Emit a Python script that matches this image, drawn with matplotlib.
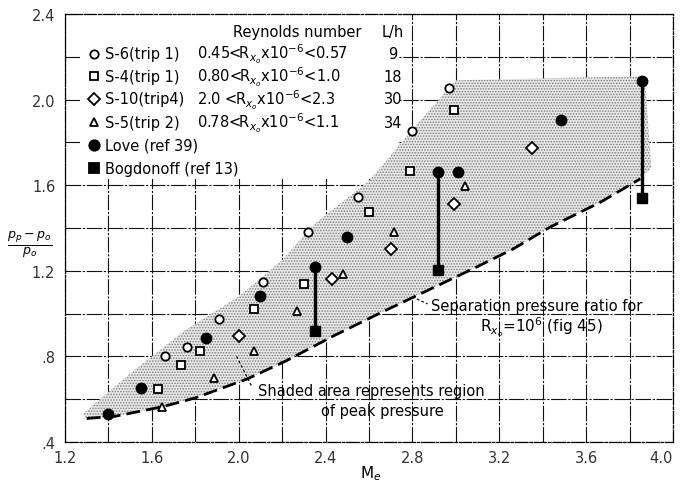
import numpy as np
import matplotlib.pyplot as plt
from matplotlib.patches import Polygon, Rectangle

# S-6 (trip 1)
s6_m = [1.66, 1.76, 1.91, 2.11, 2.32, 2.55, 2.80, 2.97]
s6_p = [0.80, 0.845, 0.975, 1.15, 1.38, 1.545, 1.855, 2.055]
# S-4 (trip 1)
s4_m = [1.63, 1.735, 1.82, 2.07, 2.30, 2.60, 2.79, 2.99]
s4_p = [0.648, 0.76, 0.825, 1.02, 1.138, 1.475, 1.666, 1.95]
# S-10 (trip 4)
s10_m = [2.00, 2.43, 2.70, 2.99, 3.35]
s10_p = [0.895, 1.16, 1.30, 1.51, 1.774]
# S-5 (trip 2)
s5_m = [1.647, 1.886, 2.07, 2.27, 2.48, 2.715, 3.04]
s5_p = [0.564, 0.70, 0.825, 1.012, 1.185, 1.38, 1.596]
# Love (ref 39)
love_m = [1.40, 1.55, 1.85, 2.10, 2.50, 3.01, 3.485]
love_p = [0.531, 0.652, 0.886, 1.083, 1.358, 1.66, 1.905]
# ranges: Love on top, Bogdonoff (ref 13) at bottom
bar_m = [2.35, 2.92, 3.855]
bar_top = [1.22, 1.66, 2.085]
bar_bot = [0.92, 1.205, 1.54]

# separation pressure ratio, R=10^6 (fig 45)
sep_m = [1.30, 1.43, 1.65, 1.80, 2.04, 2.22, 2.435, 2.66, 3.08, 3.26, 3.435, 3.665, 3.85]
sep_p = [0.51, 0.52, 0.565, 0.606, 0.695, 0.78, 0.895, 1.007, 1.21, 1.30, 1.405, 1.52, 1.63]
# upper edge of shaded region of peak pressure
top_m = [1.28, 1.50, 1.75, 2.00, 2.20, 2.35, 2.60, 2.80, 3.00, 3.87, 3.90]
top_p = [0.53, 0.72, 0.92, 1.08, 1.25, 1.42, 1.62, 1.86, 2.09, 2.11, 1.68]

xt = [1.2, 1.6, 2.0, 2.4, 2.8, 3.2, 3.6, 4.0]
xt_lab = ['1.2', '1.6', '2.0', '2.4', '2.8', '3.2', '3.6', '4.0']
yt = [0.4, 0.8, 1.2, 1.6, 2.0, 2.4]
yt_lab = ['.4', '.8', '1.2', '1.6', '2.0', '2.4']

leg_names = ['S-6(trip 1)', 'S-4(trip 1)', 'S-10(trip4)', 'S-5(trip 2)',
             'Love (ref 39)', 'Bogdonoff (ref 13)']
leg_re = [r'0.45<R$_{x_o}$x10$^{-6}$<0.57', r'0.80<R$_{x_o}$x10$^{-6}$<1.0',
          r'2.0 <R$_{x_o}$x10$^{-6}$<2.3', r'0.78<R$_{x_o}$x10$^{-6}$<1.1']
leg_lh = ['9', '18', '30', '34']

plt.rcParams['hatch.linewidth'] = 0.7
fig = plt.figure(figsize=(6.82, 4.85), dpi=100)
ax = fig.add_axes([65/682, 42/485, 608/682, 428/485])
ax.set_xlim(1.2, 4.0)
ax.set_ylim(0.4, 2.4)
ax.set_xticks(xt)
ax.set_xticklabels(xt_lab)
ax.set_yticks(yt)
ax.set_yticklabels(yt_lab)
ax.set_xticks(np.arange(1.4, 4.0, 0.4), minor=True)
ax.set_yticks(np.arange(0.6, 2.4, 0.4), minor=True)
ax.tick_params(which='both', length=0, labelsize=10.5, colors='#333')
ax.tick_params(axis='x', pad=6)
ax.tick_params(axis='y', pad=7)
ax.get_xticklabels()[-1].set_horizontalalignment('right')
ax.grid(True, which='both', color='#111', lw=0.8, ls=(0, (14, 1.5, 2, 1.5)))
ax.set_axisbelow(True)
for s in ax.spines.values():
    s.set_linewidth(0.9)
    s.set_linestyle((0, (10, 1.5, 2, 1.5)))

# legend box (hides grid)
ax.add_patch(Rectangle((1.27, 1.63), 1.47, 0.77, facecolor='white', edgecolor='none', zorder=1))

# shaded region
verts = list(zip(top_m, top_p)) + list(zip(sep_m[::-1], sep_p[::-1]))
ax.add_patch(Polygon(verts, closed=True, facecolor='#e8e8e8', edgecolor='#7a7a7a',
                     hatch='......', lw=0, zorder=2))
ax.plot(sep_m, sep_p, color='black', lw=2.0, ls=(0, (5, 2.2)), zorder=3)

ms = dict(ls='none', zorder=5)
ax.plot(s6_m, s6_p, marker='o', ms=6, mfc='white', mec='black', mew=1.3, **ms)
ax.plot(s4_m, s4_p, marker='s', ms=6, mfc='white', mec='black', mew=1.3, **ms)
ax.plot(s10_m, s10_p, marker='D', ms=6, mfc='white', mec='black', mew=1.3, **ms)
ax.plot(s5_m, s5_p, marker='^', ms=6, mfc='white', mec='black', mew=1.3, **ms)
ax.plot(love_m, love_p, marker='o', ms=7.5, mfc='black', mec='black', **ms)
ax.vlines(bar_m, bar_bot, bar_top, color='black', lw=2.4, zorder=4)
ax.plot(bar_m, bar_top, marker='o', ms=7.5, mfc='black', mec='black', **ms)
ax.plot(bar_m, bar_bot, marker='s', ms=7, mfc='black', mec='black', **ms)

# legend
rows = [2.215, 2.108, 2.003, 1.895, 1.788, 1.680]
styles = [('o', 'white', 6), ('s', 'white', 6), ('D', 'white', 6), ('^', 'white', 6),
          ('o', 'black', 7.5), ('s', 'black', 7)]
for y, (mk, fc, sz), name in zip(rows, styles, leg_names):
    ax.plot([1.335], [y], marker=mk, ms=sz, mfc=fc, mec='black', mew=1.3, ls='none', zorder=5)
    ax.text(1.385, y, name, fontsize=10.5, va='center', ha='left', zorder=6)
for y, re, lh in zip(rows, leg_re, leg_lh):
    ax.text(1.81, y, re, fontsize=10.5, va='center', ha='left', zorder=6)
    ax.text(2.71, y, lh, fontsize=10.5, va='center', ha='center', zorder=6)
ax.text(2.27, 2.32, 'Reynolds number', fontsize=10.5, va='center', ha='center', zorder=6)
ax.text(2.71, 2.32, 'L/h', fontsize=10.5, va='center', ha='center', zorder=6)

# annotations
ax.plot([2.80, 2.87], [1.078, 1.045], color='black', lw=0.9, ls=(0, (2, 2)), zorder=4)
ax.text(2.885, 1.04, 'Separation pressure ratio for', fontsize=10.5, va='center', ha='left', zorder=6)
ax.text(3.11, 0.94, r'R$_{x_o}$=10$^6$ (fig 45)', fontsize=11, va='center', ha='left', zorder=6)
ax.plot([1.99, 2.06], [0.80, 0.66], color='black', lw=0.9, ls=(0, (2, 2)), zorder=4)
ax.text(2.09, 0.64, 'Shaded area represents region', fontsize=10.5, va='center', ha='left', zorder=6)
ax.text(2.38, 0.545, 'of peak pressure', fontsize=10.5, va='center', ha='left', zorder=6)

fig.text(371/682, 1 - 474/485, r'M$_e$', fontsize=11, ha='center', va='center')
fig.text(30/682, 1 - 245/485, r'$\frac{p_p-p_o}{p_o}$', fontsize=13, ha='center', va='center')

fig.savefig('out.png', dpi=100)
